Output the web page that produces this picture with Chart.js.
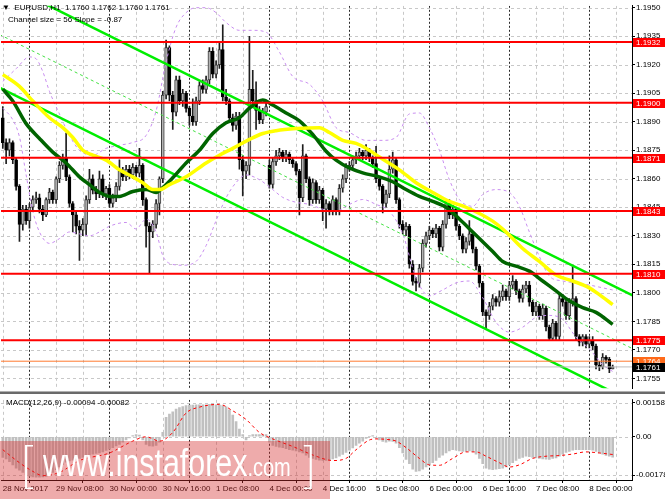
<!DOCTYPE html>
<html><head><meta charset="utf-8">
<script src="https://cdn.jsdelivr.net/npm/chart.js@4.4.1/dist/chart.umd.min.js"></script>
<style>
html,body{margin:0;padding:0;background:#fff;}
#wrap{position:relative;width:665px;height:499px;overflow:hidden;font-family:'Liberation Sans',Arial,sans-serif;}
#c1{position:absolute;left:0;top:0;width:665px;height:394px;}
#c2{position:absolute;left:0;top:394px;width:665px;height:105px;}
.t{position:absolute;font-size:8px;line-height:10px;color:#000;white-space:pre;}
#wm{position:absolute;left:0;top:441px;width:330px;height:58px;background:rgba(212,45,45,0.40);overflow:hidden;color:#fff;}
#wm span{position:absolute;white-space:nowrap;font-family:'Liberation Sans',Arial,sans-serif;}
#wm span.br{font-family:'Lato','Liberation Sans',sans-serif;font-weight:300;font-size:50px;top:-8px;}
</style></head><body>
<div id="wrap">
<canvas id="c1" width="665" height="394"></canvas>
<canvas id="c2" width="665" height="105"></canvas>
<div class="t" style="left:2px;top:3px">▼  EURUSD,H1  1.1760 1.1762 1.1760 1.1761</div>
<div class="t" style="left:8px;top:15px">Channel size = 56 Slope = -0.87</div>
<div class="t" style="left:6px;top:398px">MACD(12,26,9) -0.00094 -0.00082</div>
<div id="wm">
  <span class="br" style="left:20px;">[</span>
  <span style="left:43px;top:1px;font-size:38px;transform:scaleX(0.8);transform-origin:left top;">www.instaforex<span style="position:static;font-size:25px;">.com</span></span>
  <span class="br" style="left:302px;">]</span>
</div>
</div>
<script>
// ---------- DATA (prices in pips: 1892 => 1.1892) ----------
const opens = [1892,1879,1875,1879,1870,1856,1836,1844,1838,1845,
1849,1850,1844,1841,1849,1853,1849,1860,1867,1871,
1861,1847,1841,1835,1833,1836,1849,1860,1854,1852,
1860,1852,1855,1847,1850,1856,1864,1861,1865,1862,
1866,1863,1867,1849,1835,1832,1836,1847,1860,1904,
1929,1904,1895,1912,1901,1905,1897,1893,1890,1901,
1909,1907,1912,1927,1915,1920,1928,1903,1901,1892,
1888,1893,1870,1864,1867,1907,1901,1896,1891,1895,
1867,1857,1869,1872,1874,1871,1873,1870,1868,1864,
1850,1872,1860,1849,1858,1849,1854,1844,1847,1843,
1849,1843,1855,1860,1866,1867,1870,1872,1874,1872,
1875,1871,1868,1860,1856,1847,1852,1865,1870,1849,
1836,1833,1835,1815,1806,1805,1813,1826,1830,1833,
1831,1834,1824,1836,1847,1841,1844,1835,1830,1823,
1827,1831,1823,1814,1805,1790,1788,1793,1797,1795,
1798,1801,1798,1804,1806,1801,1797,1802,1804,1795,
1790,1793,1788,1792,1782,1776,1784,1777,1797,1795,
1788,1795,1797,1777,1774,1777,1773,1775,1772,1762,
1761,1766,1765,1760];
const highs = [1898,1881,1881,1880,1871,1857,1846,1846,1847,1851,
1853,1852,1846,1850,1855,1854,1861,1869,1873,1884,
1862,1848,1843,1838,1839,1851,1865,1862,1856,1864,
1862,1856,1857,1852,1858,1870,1866,1867,1867,1868,
1867,1876,1868,1850,1837,1838,1849,1861,1906,1933,
1930,1906,1914,1914,1907,1906,1898,1902,1903,1911,
1912,1914,1929,1929,1922,1932,1941,1907,1902,1894,
1895,1895,1872,1869,1935,1917,1911,1898,1897,1900,
1870,1871,1875,1876,1875,1875,1874,1871,1869,1865,
1878,1873,1861,1860,1859,1856,1855,1849,1848,1851,
1850,1857,1862,1868,1869,1872,1874,1876,1875,1878,
1876,1872,1877,1861,1857,1854,1872,1874,1871,1850,
1838,1837,1836,1817,1808,1815,1828,1832,1835,1834,
1836,1835,1838,1849,1849,1846,1845,1836,1831,1829,
1838,1832,1824,1815,1806,1791,1795,1799,1798,1801,
1804,1802,1806,1809,1807,1802,1804,1806,1806,1796,
1795,1794,1794,1793,1783,1786,1785,1800,1799,1796,
1797,1814,1798,1778,1778,1778,1777,1777,1773,1764,
1768,1767,1766,1762];
const lows = [1876,1868,1872,1868,1854,1827,1833,1836,1834,1843,
1847,1842,1838,1840,1847,1847,1847,1858,1865,1859,
1845,1832,1831,1817,1830,1830,1847,1852,1849,1850,
1850,1849,1845,1845,1848,1854,1859,1859,1860,1860,
1861,1861,1846,1824,1810,1829,1834,1841,1858,1902,
1901,1886,1893,1899,1898,1895,1888,1888,1888,1899,
1905,1905,1910,1913,1913,1918,1901,1899,1890,1885,
1886,1865,1851,1860,1862,1899,1886,1889,1889,1893,
1855,1855,1867,1870,1869,1869,1868,1866,1862,1841,
1848,1858,1846,1847,1847,1847,1838,1834,1841,1841,
1841,1841,1853,1858,1864,1865,1868,1870,1870,1870,
1869,1866,1858,1854,1842,1845,1850,1863,1847,1834,
1831,1830,1813,1804,1801,1803,1811,1824,1828,1829,
1829,1822,1822,1834,1839,1839,1833,1828,1821,1821,
1825,1821,1812,1803,1788,1781,1786,1791,1793,1793,
1796,1796,1796,1802,1799,1795,1795,1800,1793,1788,
1788,1786,1786,1780,1775,1775,1775,1775,1793,1786,
1786,1793,1775,1772,1772,1771,1771,1770,1760,1759,
1760,1763,1758,1760];
const closes = [1879,1875,1879,1870,1856,1836,1844,1838,1845,1849,
1850,1844,1841,1849,1853,1849,1860,1867,1871,1861,
1847,1841,1835,1833,1836,1849,1860,1854,1852,1860,
1852,1855,1847,1850,1856,1864,1861,1865,1862,1866,
1863,1867,1849,1835,1832,1836,1847,1860,1904,1929,
1904,1895,1912,1901,1905,1897,1893,1890,1901,1909,
1907,1912,1927,1915,1920,1928,1903,1901,1892,1888,
1893,1870,1864,1867,1907,1901,1896,1891,1895,1898,
1857,1869,1872,1874,1871,1873,1870,1868,1864,1850,
1872,1860,1849,1858,1849,1854,1844,1847,1843,1849,
1843,1855,1860,1866,1867,1870,1872,1874,1872,1875,
1871,1868,1860,1856,1847,1852,1865,1870,1849,1836,
1833,1835,1815,1806,1805,1813,1826,1830,1833,1831,
1834,1824,1836,1847,1841,1844,1835,1830,1823,1827,
1831,1823,1814,1805,1790,1788,1793,1797,1795,1798,
1801,1798,1804,1806,1801,1797,1802,1804,1795,1790,
1793,1788,1792,1782,1776,1784,1777,1797,1795,1788,
1795,1797,1777,1774,1777,1773,1775,1772,1762,1761,
1766,1765,1760,1761];

// moving averages (bar index, value in pips)
const yellowIdx = [0,5,9,14,18,21,24,27,31,35,39,42,45,47,50,55,61,65,69,74,78,82,88,95,98,102,106,109,113,119,124,129,134,139,147,151,156,161,166,171,176,179,183];
const yellowVal = [1914.8,1908.6,1900.9,1892.1,1886.9,1881.7,1875.0,1872.4,1869.8,1864.7,1861.0,1857.9,1854.3,1854.3,1856.9,1861.0,1868.3,1872.4,1876.0,1880.7,1883.8,1885.3,1886.4,1886.9,1884.3,1880.2,1878.6,1876.0,1871.4,1864.7,1857.9,1852.8,1848.1,1845.0,1837.7,1832.0,1823.3,1816.5,1809.3,1806.2,1802.6,1799.0,1793.8];
const greenIdx = [0,3,7,11,15,19,23,26,29,32,35,39,43,46,48,51,55,59,63,67,71,74,78,81,85,89,93,97,100,104,108,113,117,121,125,129,133,137,141,147,150,154,158,162,166,170,174,178,183];
const greenVal = [1907.1,1900.9,1889.0,1881.2,1874.0,1868.3,1861.0,1856.9,1852.8,1850.7,1850.7,1853.3,1854.3,1852.8,1855.3,1860.5,1868.3,1875.0,1883.8,1889.5,1892.1,1897.2,1901.4,1898.8,1894.6,1890.5,1883.3,1874.5,1869.8,1865.7,1863.1,1861.0,1858.4,1854.3,1850.7,1848.1,1845.0,1838.8,1832.0,1821.7,1816.5,1814.0,1811.4,1806.2,1801.0,1795.8,1792.2,1789.7,1783.4];
// bands
const bandUpIdx = [0,4,8,10,12,14,17,20,23,27,31,35,39,43,46,49,52,55,58,61,64,67,71,75,79,83,87,92,96,100,104,109,114,118,122,125,128,131,134,137,141,144,148,152,155,158,161,164,168,172,176,180,183];
const bandUpVal = [1911.2,1917.9,1924.1,1923.1,1916.4,1906.0,1894.1,1882.8,1875.0,1872.4,1876.0,1877.6,1879.1,1882.8,1895.7,1921.5,1939.7,1947.4,1950.0,1950.0,1947.4,1942.2,1938.1,1938.1,1937.1,1926.7,1913.8,1909.7,1900.9,1886.9,1884.3,1880.2,1880.2,1881.7,1894.1,1894.6,1886.9,1875.0,1859.5,1849.1,1845.5,1851.7,1854.3,1852.8,1845.5,1832.0,1819.1,1808.8,1806.2,1805.2,1804.1,1802.6,1801.5];
const bandLoIdx = [0,3,5,7,9,11,14,17,20,23,26,29,32,37,40,43,46,48,50,54,58,61,64,67,70,73,77,81,84,88,92,96,100,104,108,112,116,120,124,128,132,136,140,144,148,152,156,160,164,168,172,176,180,183];
const bandLoVal = [1897.2,1891.0,1882.0,1862.0,1843.0,1832.0,1826.0,1828.5,1832.0,1831.0,1830.0,1832.0,1835.0,1837.0,1833.6,1838.8,1832.0,1819.6,1815.5,1814.5,1816.5,1824.8,1838.0,1850.0,1858.0,1862.0,1859.5,1854.3,1850.2,1847.6,1846.5,1844.0,1842.9,1846.5,1849.1,1846.5,1842.9,1831.0,1807.8,1798.4,1801.5,1805.2,1806.2,1797.4,1784.5,1779.3,1781.9,1787.1,1788.1,1786.0,1776.7,1770.5,1762.2,1758.6];
// regression channel end points [bar index, pips]
const chanUpper = [[-1,1963.9],[190,1797.7]];
const chanMiddle = [[-1,1935.9],[190,1769.7]];
const chanLower = [[-1,1907.9],[190,1741.7]];
// horizontal levels
const levels = [1.1932,1.1900,1.1871,1.1843,1.1810,1.1775];
const askLevel = 1.1764;
const bidLevel = 1.1761;
// MACD (units of 0.00001)
const macdHist = [-95,-102,-115,-130,-145,-155,-165,-175,-182,-186,
-187,-187,-186,-184,-178,-165,-152,-140,-128,-118,
-112,-108,-104,-100,-95,-88,-84,-80,-77,-75,
-70,-63,-57,-50,-42,-35,-25,-15,-5,5,
10,8,-15,-35,-42,-44,-40,-25,20,90,
105,115,128,135,140,144,146,147,148,148,
148,148,150,150,148,146,144,138,125,100,
70,35,10,-15,5,10,10,10,8,10,
-25,-40,-45,-48,-50,-55,-60,-62,-65,-70,
-75,-85,-95,-100,-105,-108,-110,-110,-108,-103,
-98,-90,-82,-72,-62,-52,-40,-30,-20,-8,
2,5,-5,-15,-22,-25,-20,-22,-30,-50,
-75,-105,-125,-150,-160,-158,-150,-140,-130,-120,
-110,-95,-85,-75,-65,-60,-62,-65,-68,-68,
-65,-68,-80,-100,-125,-145,-150,-152,-150,-148,
-145,-140,-130,-120,-110,-100,-95,-90,-92,-95,
-98,-100,-102,-104,-105,-100,-98,-90,-80,-72,
-68,-62,-60,-60,-60,-60,-60,-62,-68,-75,
-80,-86,-90,-94];
const sigIdx = [0,5,9,12,17,23,32,39,43,47,51,55,59,65,69,73,77,81,87,94,99,103,106,110,112,115,118,121,125,128,131,135,139,142,145,149,152,155,159,163,167,171,175,179,183];
const sigVal = [-60,-120,-160,-180,-165,-110,-75,-20,0,-20,20,110,137,150,120,80,20,-10,-45,-90,-110,-100,-60,-15,-10,-12,-20,-50,-100,-130,-132,-100,-70,-70,-90,-120,-140,-130,-100,-90,-87,-80,-70,-75,-82];
// axes
const priceTicks = [1.1755,1.1770,1.1785,1.1800,1.1815,1.1830,1.1845,1.1860,1.1875,1.1890,1.1905,1.1920,1.1935,1.1950];
const macdTicks = [-0.00178,0,0.00158];
const xLabelIdx = [0,16,32,48,64,80,96,112,128,144,160,176];
const xLabels = ['28 Nov 2017','29 Nov 08:00','30 Nov 00:00','30 Nov 16:00','1 Dec 08:00','4 Dec 00:00','4 Dec 16:00','5 Dec 08:00','6 Dec 00:00','6 Dec 16:00','7 Dec 08:00','8 Dec 00:00'];
const vGridIdx = [0,8,16,24,32,40,48,56,64,72,80,88,96,104,112,120,128,136,144,152,160,168,176,184];
const daySepIdx = [8,32,56,80,104,128,152,176];

// ---------- CHART ----------
const FONT = "'Liberation Sans', Arial, sans-serif";
Chart.defaults.font.family = FONT;
Chart.defaults.font.size = 8;
Chart.defaults.color = '#000';

const P = v => 1 + v / 10000;
const M = v => v / 100000;
const ptsP = (ix, vals) => ix.map((x, k) => ({x, y: P(vals[k])}));
const ptsPair = arr => arr.map(p => ({x: p[0], y: P(p[1])}));
const barIdx = opens.map((_, i) => i);
const X_MIN = -0.54, X_MAX = 188.8;

const gridPlugin = {
  id: 'mtgrid',
  beforeDatasetsDraw(chart, args, opts) {
    const {ctx, chartArea: a, scales} = chart;
    const x = scales.x, y = scales.y;
    ctx.save();
    ctx.beginPath(); ctx.rect(a.left, a.top, a.right - a.left, a.bottom - a.top); ctx.clip();
    ctx.lineWidth = 1;
    ctx.strokeStyle = '#c8c8c8'; ctx.setLineDash([3, 3]);
    for (const v of opts.hTicks) {
      const py = Math.round(y.getPixelForValue(v)) + 0.5;
      ctx.beginPath(); ctx.moveTo(a.left, py); ctx.lineTo(a.right, py); ctx.stroke();
    }
    for (const i of vGridIdx) {
      const px = Math.round(x.getPixelForValue(i)) + 0.5;
      const day = daySepIdx.includes(i);
      ctx.strokeStyle = day ? '#2a2a2a' : '#c8c8c8';
      ctx.setLineDash(day ? [2, 2] : [3, 3]);
      ctx.beginPath(); ctx.moveTo(px, a.top); ctx.lineTo(px, a.bottom); ctx.stroke();
    }
    ctx.restore();
  }
};

const boxesPlugin = {
  id: 'axisBoxes',
  afterDraw(chart) {
    const {ctx, scales: {y}} = chart;
    ctx.save();
    ctx.font = '8px ' + FONT;
    ctx.textBaseline = 'middle';
    const box = (v, bg) => {
      const py = Math.round(y.getPixelForValue(v));
      ctx.fillStyle = bg; ctx.fillRect(633, py - 4, 32, 9);
      ctx.fillStyle = '#fff'; ctx.fillText(v.toFixed(4), 636, py + 1);
    };
    levels.forEach(v => box(v, '#ff0000'));
    box(askLevel, '#ff6a1a');
    box(bidLevel, '#000000');
    ctx.fillStyle = '#b0b0b0'; ctx.fillRect(0, 391, 665, 1);
    ctx.fillStyle = '#6a6a6a'; ctx.fillRect(0, 392, 665, 2);
    ctx.restore();
  }
};

const lineDs = (data, color, width, extra) => Object.assign({
  type: 'line', data, borderColor: color, borderWidth: width, pointRadius: 0, fill: false, clip: 0
}, extra || {});

const mainDatasets = [
  {type: 'bar', data: barIdx.map(i => ({x: i, y: [P(lows[i]), P(highs[i])]})),
   backgroundColor: '#1e1e1e', barThickness: 1, grouped: false, order: 50},
  {type: 'bar', data: barIdx.map(i => ({x: i, y: [P(opens[i]), P(closes[i])]})),
   backgroundColor: barIdx.map(i => closes[i] >= opens[i] ? '#b4b4b4' : '#000000'),
   borderColor: barIdx.map(i => closes[i] >= opens[i] ? '#3a3a3a' : '#000000'),
   borderWidth: 1, borderSkipped: false, barThickness: 3, grouped: false, order: 49},
  lineDs(ptsP(bandUpIdx, bandUpVal), '#c98ef0', 1, {borderDash: [3, 3], cubicInterpolationMode: 'monotone', order: 40}),
  lineDs(ptsP(bandLoIdx, bandLoVal), '#c98ef0', 1, {borderDash: [3, 3], cubicInterpolationMode: 'monotone', order: 40}),
  lineDs(ptsPair(chanMiddle), '#44e044', 1, {borderDash: [3, 3], order: 30}),
  lineDs(ptsPair(chanUpper), '#00ee00', 2.5, {order: 30}),
  lineDs(ptsPair(chanLower), '#00ee00', 2.5, {order: 30}),
  lineDs(ptsP(yellowIdx, yellowVal), '#ffff00', 3.5, {cubicInterpolationMode: 'monotone', order: 20}),
  lineDs(ptsP(greenIdx, greenVal), '#006400', 3.5, {cubicInterpolationMode: 'monotone', order: 20}),
  ...levels.map(v => lineDs([{x: -1, y: v}, {x: 190, y: v}], '#ff0000', 2, {order: 10})),
  lineDs([{x: -1, y: askLevel}, {x: 190, y: askLevel}], '#ff7a30', 1, {order: 10}),
  lineDs([{x: -1, y: bidLevel}, {x: 190, y: bidLevel}], '#bdbdbd', 1, {order: 10})
];

new Chart(document.getElementById('c1'), {
  type: 'line',
  data: {datasets: mainDatasets},
  options: {
    responsive: false, animation: false, events: [],
    layout: {padding: {left: 1, right: 0, top: 3, bottom: 2}},
    plugins: {legend: {display: false}, tooltip: {enabled: false}, mtgrid: {hTicks: priceTicks}},
    scales: {
      x: {type: 'linear', min: X_MIN, max: X_MAX, offset: false, display: false},
      y: {type: 'linear', position: 'right', min: 1.17498, max: 1.19510, beginAtZero: false,
          afterBuildTicks: s => { s.ticks = priceTicks.map(v => ({value: v})); },
          afterFit: s => { s.width = 33; },
          ticks: {callback: v => Number(v).toFixed(4), padding: 1, color: '#000', autoSkip: false},
          grid: {drawOnChartArea: false, drawTicks: true, tickLength: 3, color: '#000'},
          border: {display: true, color: '#000', width: 1}}
    }
  },
  plugins: [gridPlugin, boxesPlugin]
});

new Chart(document.getElementById('c2'), {
  type: 'line',
  data: {datasets: [
    {type: 'bar', data: barIdx.map(i => ({x: i, y: M(macdHist[i])})), backgroundColor: '#c0c0c0',
     barThickness: 2, grouped: false, order: 20},
    lineDs(sigIdx.map((x, k) => ({x, y: M(sigVal[k])})), '#ff0000', 1, {borderDash: [3, 3], cubicInterpolationMode: 'monotone', order: 10})
  ]},
  options: {
    responsive: false, animation: false, events: [],
    layout: {padding: {left: 1, right: 0, top: 2, bottom: 0}},
    plugins: {legend: {display: false}, tooltip: {enabled: false}, mtgrid: {hTicks: macdTicks}},
    scales: {
      x: {type: 'linear', min: X_MIN, max: X_MAX, offset: false, position: 'bottom',
          afterBuildTicks: s => { s.ticks = xLabelIdx.map(v => ({value: v})); },
          afterFit: s => { s.height = 19; },
          ticks: {autoSkip: false, maxRotation: 0, minRotation: 0, align: 'start', padding: 1, color: '#000',
                  callback: (v, i) => xLabels[i]},
          grid: {drawOnChartArea: false, drawTicks: true, tickLength: 3, color: '#000'},
          border: {display: true, color: '#000', width: 1}},
      y: {type: 'linear', position: 'right', min: -0.0020, max: 0.00171, beginAtZero: false,
          afterBuildTicks: s => { s.ticks = macdTicks.map(v => ({value: v})); },
          afterFit: s => { s.width = 33; },
          ticks: {callback: v => v === 0 ? '0.00' : Number(v).toFixed(5), padding: 1, color: '#000', autoSkip: false},
          grid: {drawOnChartArea: false, drawTicks: true, tickLength: 3, color: '#000'},
          border: {display: true, color: '#000', width: 1}}
    }
  },
  plugins: [gridPlugin]
});
</script>
</body></html>
